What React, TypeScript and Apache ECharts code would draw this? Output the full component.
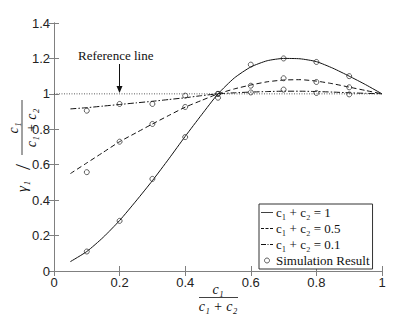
import React, { useEffect, useRef } from "react";
import * as echarts from "echarts";

const curveX = [0.05, 0.1, 0.15, 0.2, 0.25, 0.3, 0.35, 0.4, 0.45, 0.5, 0.55, 0.6, 0.65, 0.7, 0.75, 0.8, 0.85, 0.9, 0.95, 1.0];
const curve1 = [0.053, 0.11, 0.19, 0.285, 0.395, 0.51, 0.633, 0.76, 0.882, 1.0, 1.09, 1.152, 1.187, 1.2, 1.198, 1.182, 1.145, 1.1, 1.052, 1.0];
const curve05 = [0.55, 0.61, 0.67, 0.73, 0.78, 0.83, 0.878, 0.925, 0.963, 1.0, 1.028, 1.05, 1.068, 1.078, 1.08, 1.072, 1.057, 1.038, 1.019, 1.0];
const curve01 = [0.915, 0.922, 0.931, 0.94, 0.949, 0.958, 0.968, 0.978, 0.99, 1.0, 1.006, 1.01, 1.013, 1.015, 1.015, 1.013, 1.01, 1.006, 1.003, 1.0];

const simX = [0.1, 0.2, 0.3, 0.4, 0.5, 0.6, 0.7, 0.8, 0.9];
const sim1 = [0.11, 0.283, 0.52, 0.756, 0.978, 1.165, 1.2, 1.18, 1.1];
const sim05 = [0.558, 0.73, 0.83, 0.926, 1.0, 1.046, 1.088, 1.067, 1.037];
const sim01 = [0.905, 0.943, 0.943, 0.99, 1.0, 1.008, 1.024, 1.005, 0.997];

const refX = [0, 1];
const refY = [1, 1];

const names = ["c₁ + c₂ = 1", "c₁ + c₂ = 0.5", "c₁ + c₂ = 0.1", "Simulation Result"];

const SERIF = "'Liberation Serif', 'DejaVu Serif', serif";
const SANS = "'Liberation Sans', Arial, sans-serif";
const FRAME = "#808080";
const INK = "#111";

const ICON_SOLID = "path://M0,0h12v0.8h-12z";
const ICON_DASH = "path://M0,0h3v0.8h-3zM4.5,0h3v0.8h-3zM9,0h3v0.8h-3z";
const ICON_DASHDOT = "path://M0,0h5v0.8h-5zM6.5,0h1v0.8h-1zM9,0h3v0.8h-3z";

export default function App() {
  const ref = useRef<HTMLDivElement>(null);
  useEffect(() => {
    const chart = echarts.init(ref.current!, null, { renderer: "svg" });
    const zip = (xs: number[], ys: number[]) => xs.map((x, i) => [x, ys[i]]);
    const simData = [...zip(simX, sim1), ...zip(simX, sim05), ...zip(simX, sim01)];
    const lineCommon = {
      type: "line",
      showSymbol: false,
      symbol: "none",
      smooth: 0.2,
      z: 3,
    };
    const italic = { fontFamily: SERIF, fontStyle: "italic", fontSize: 14, fill: INK };
    const axisBase = {
      type: "value",
      axisLine: { show: true, lineStyle: { color: FRAME, width: 1 } },
      axisTick: { show: true, inside: true, length: 5, lineStyle: { color: FRAME } },
      splitLine: { show: false },
    };
    chart.setOption({
      animation: false,
      grid: { left: 54, right: 33, top: 23, bottom: 46 },
      xAxis: [
        {
          ...axisBase,
          min: 0,
          max: 1,
          interval: 0.2,
          axisLabel: { color: "#222", fontFamily: SANS, fontSize: 13, margin: 5 },
        },
        {
          ...axisBase,
          position: "top",
          min: 0,
          max: 1,
          interval: 0.2,
          axisLabel: { show: false },
        },
      ],
      yAxis: [
        {
          ...axisBase,
          min: 0,
          max: 1.4,
          interval: 0.2,
          axisLabel: { color: "#222", fontFamily: SANS, fontSize: 13, margin: 4 },
        },
        {
          ...axisBase,
          position: "right",
          min: 0,
          max: 1.4,
          interval: 0.2,
          axisLabel: { show: false },
        },
      ],
      legend: {
        data: [
          { name: names[0], icon: ICON_SOLID, itemStyle: { color: INK, borderWidth: 0 } },
          { name: names[1], icon: ICON_DASH, itemStyle: { color: INK, borderWidth: 0 } },
          { name: names[2], icon: ICON_DASHDOT, itemStyle: { color: INK, borderWidth: 0 } },
          { name: names[3], icon: "circle", itemStyle: { color: "#fff", borderColor: "#222", borderWidth: 0.9 } },
        ],
        orient: "vertical",
        left: 259,
        top: 204,
        itemWidth: 12,
        itemHeight: 5,
        itemGap: 3,
        padding: [2, 3, 2, 2],
        borderColor: "#333",
        borderWidth: 1,
        backgroundColor: "#fff",
        textStyle: { fontFamily: SERIF, fontSize: 13, color: INK, padding: [0, 0, 0, -2] },
      },
      series: [
        {
          ...lineCommon,
          name: "Reference",
          data: zip(refX, refY),
          smooth: false,
          lineStyle: { color: "#333", width: 0.8, type: [1, 1.5] },
          z: 2,
        },
        {
          ...lineCommon,
          name: names[0],
          data: zip(curveX, curve1),
          lineStyle: { color: INK, width: 1, type: "solid" },
          itemStyle: { color: INK },
        },
        {
          ...lineCommon,
          name: names[1],
          data: zip(curveX, curve05),
          lineStyle: { color: INK, width: 1, type: [5, 3] },
          itemStyle: { color: INK },
        },
        {
          ...lineCommon,
          name: names[2],
          data: zip(curveX, curve01),
          lineStyle: { color: INK, width: 1, type: [6, 2, 1.5, 2] },
          itemStyle: { color: INK },
        },
        {
          type: "scatter",
          name: names[3],
          data: simData,
          symbol: "circle",
          symbolSize: 5,
          itemStyle: { color: "rgba(255,255,255,0)", borderColor: "#222", borderWidth: 0.9 },
          z: 4,
        },
      ],
      graphic: [
        {
          type: "text",
          left: 78,
          top: 49,
          style: { text: "Reference line", fontFamily: SERIF, fontSize: 13, fill: INK },
        },
        {
          type: "line",
          shape: { x1: 119.5, y1: 64, x2: 119.5, y2: 88 },
          style: { stroke: INK, lineWidth: 1 },
        },
        {
          type: "polygon",
          shape: { points: [[116.5, 86], [122.5, 86], [119.5, 93]] },
          style: { fill: INK },
        },
        // x-axis name: c1 / (c1 + c2)
        {
          type: "text",
          x: 218,
          y: 289,
          style: { ...italic, text: "c₁", align: "center", verticalAlign: "middle" },
        },
        {
          type: "line",
          shape: { x1: 199, y1: 297.5, x2: 238, y2: 297.5 },
          style: { stroke: INK, lineWidth: 0.8 },
        },
        {
          type: "text",
          x: 218,
          y: 306,
          style: { ...italic, text: "c₁ + c₂", align: "center", verticalAlign: "middle" },
        },
        // y-axis name: gamma1 / (c1/(c1+c2)), rotated
        {
          type: "group",
          x: 22,
          y: 192,
          rotation: Math.PI / 2,
          children: [
            {
              type: "text",
              x: 0,
              y: 0,
              style: { ...italic, fontSize: 15, text: "γ₁", align: "left", verticalAlign: "middle" },
            },
            {
              type: "text",
              x: 25,
              y: 0,
              style: { fontFamily: SERIF, fontSize: 22, fill: INK, text: "/", align: "center", verticalAlign: "middle" },
            },
            {
              type: "line",
              shape: { x1: 37, y1: 0, x2: 92, y2: 0 },
              style: { stroke: INK, lineWidth: 0.8 },
            },
            {
              type: "text",
              x: 64,
              y: -9,
              style: { ...italic, text: "c₁", align: "center", verticalAlign: "middle" },
            },
            {
              type: "text",
              x: 64,
              y: 9,
              style: { ...italic, text: "c₁ + c₂", align: "center", verticalAlign: "middle" },
            },
          ],
        },
      ],
    });
    return () => chart.dispose();
  }, []);
  return <div ref={ref} style={{ position: "absolute", left: 0, top: 0, width: 415, height: 317 }} />;
}
